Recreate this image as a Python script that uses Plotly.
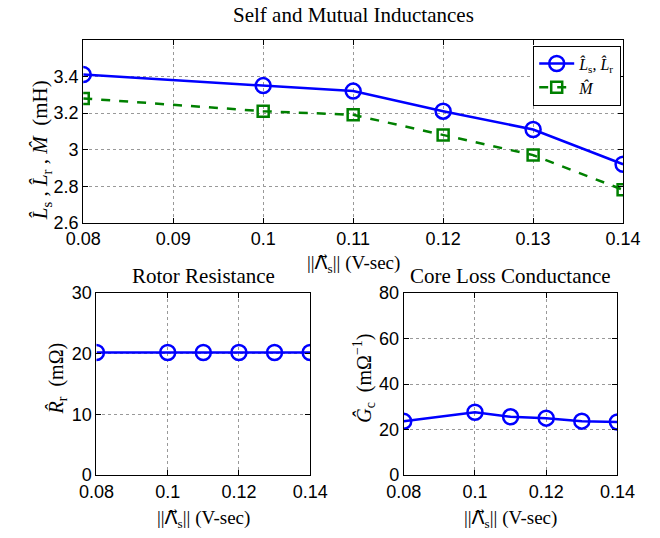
import plotly.graph_objects as go

flux = [0.08, 0.10, 0.11, 0.12, 0.13, 0.14]
L_self = [3.41, 3.35, 3.32, 3.21, 3.11, 2.92]
M_mutual = [3.28, 3.21, 3.19, 3.08, 2.97, 2.78]
R_rotor = [20.2, 20.2, 20.2, 20.2, 20.2, 20.2]
G_core = [23.6, 27.6, 25.6, 25.0, 23.7, 23.3]

top_xticks = [0.08, 0.09, 0.10, 0.11, 0.12, 0.13, 0.14]
top_xlabels = ["0.08", "0.09", "0.1", "0.11", "0.12", "0.13", "0.14"]
top_yticks = [2.6, 2.8, 3.0, 3.2, 3.4]
top_ylabels = ["2.6", "2.8", "3", "3.2", "3.4"]
bot_xticks = [0.08, 0.10, 0.12, 0.14]
bot_xlabels = ["0.08", "0.1", "0.12", "0.14"]
r_yticks = [0, 10, 20, 30]
g_yticks = [0, 20, 40, 60, 80]

BLUE = "#0000ff"
GREEN = "#008000"
SANS = "Liberation Sans, Arial, sans-serif"
SERIF = "Liberation Serif, Times New Roman, serif"

fig = go.Figure()

fig.add_trace(go.Scatter(x=flux, y=L_self, mode="lines+markers",
                         name="<i>L̂</i><sub>s</sub>, <i>L̂</i><sub>r</sub>",
                         line=dict(color=BLUE, width=2.5),
                         marker=dict(symbol="circle-open", size=15, color=BLUE, line=dict(width=2.5)),
                         xaxis="x", yaxis="y"))
fig.add_trace(go.Scatter(x=flux, y=M_mutual, mode="lines+markers", name="<i>M̂</i>",
                         line=dict(color=GREEN, width=2.5, dash="dash"),
                         marker=dict(symbol="square-open", size=11, color=GREEN, line=dict(width=2.5)),
                         xaxis="x", yaxis="y"))
fig.add_trace(go.Scatter(x=flux, y=R_rotor, mode="lines+markers", showlegend=False,
                         line=dict(color=BLUE, width=2.5),
                         marker=dict(symbol="circle-open", size=15, color=BLUE, line=dict(width=2.5)),
                         xaxis="x2", yaxis="y2"))
fig.add_trace(go.Scatter(x=flux, y=G_core, mode="lines+markers", showlegend=False,
                         line=dict(color=BLUE, width=2.5),
                         marker=dict(symbol="circle-open", size=15, color=BLUE, line=dict(width=2.5)),
                         xaxis="x3", yaxis="y3"))

H = 538.0
W = 660.0

def ax(domain, rng, tickvals, ticktext, anchor):
    return dict(domain=domain, range=rng, tickvals=tickvals, ticktext=ticktext,
                anchor=anchor, showline=True, linecolor="black", linewidth=1, mirror="ticks",
                ticks="inside", ticklen=5, tickcolor="black",
                showgrid=True, gridcolor="#999999", griddash="dot", gridwidth=1,
                zeroline=False, tickfont=dict(family=SANS, size=18, color="black"),
                fixedrange=True)

fig.update_layout(
    width=660, height=538,
    margin=dict(l=0, r=0, t=0, b=0),
    paper_bgcolor="white", plot_bgcolor="white",
    xaxis=ax([69 / W, 640 / W], [0.08, 0.14], top_xticks, top_xlabels, "y"),
    yaxis=ax([1 - 221 / H, 1 - 31 / H], [2.6, 3.6], top_yticks, top_ylabels, "x"),
    xaxis2=ax([83 / W, 309 / W], [0.08, 0.14], bot_xticks, bot_xlabels, "y2"),
    yaxis2=ax([1 - 483 / H, 1 - 294 / H], [0, 30], r_yticks, [str(v) for v in r_yticks], "x2"),
    xaxis3=ax([408 / W, 634 / W], [0.08, 0.14], bot_xticks, bot_xlabels, "y3"),
    yaxis3=ax([1 - 483 / H, 1 - 294 / H], [0, 80], g_yticks, [str(v) for v in g_yticks], "x3"),
    legend=dict(x=638 / W, y=1 - 37 / H, xanchor="right", yanchor="top",
                bordercolor="black", borderwidth=1, bgcolor="white",
                font=dict(family=SERIF, size=16, color="black"),
                tracegroupgap=0, itemwidth=35),
    showlegend=True,
)

lam = "||<span style='font-family:DejaVu Sans'>Λ⃗</span><sub>s</sub>|| (V-sec)"
annots = [
    dict(text="Self and Mutual Inductances", x=355 / W, y=1 - 5 / H, size=21),
    dict(text="Rotor Resistance", x=196 / W, y=1 - 276 / H, size=21),
    dict(text="Core Loss Conductance", x=521 / W, y=1 - 276 / H, size=21),
    dict(text=lam, x=355 / W, y=1 - 263 / H, size=19),
    dict(text=lam, x=196 / W, y=1 - 528 / H, size=19),
    dict(text=lam, x=521 / W, y=1 - 528 / H, size=19),
    dict(text="<i>L̂</i><sub>s</sub> , <i>L̂</i><sub>r</sub> , <i>M̂</i>  (mH)",
         x=24 / W, y=1 - 146 / H, size=21, angle=-90),
    dict(text="<i>R̂</i><sub>r</sub>  (mΩ)", x=42 / W, y=1 - 383 / H, size=20, angle=-90),
    dict(text="<i>Ĝ</i><sub>c</sub>  (mΩ<sup>−1</sup>)", x=366 / W, y=1 - 383 / H, size=20, angle=-90),
]
for a in annots:
    fig.add_annotation(text=a["text"], x=a["x"], y=a["y"], xref="paper", yref="paper",
                       xanchor="center", yanchor="middle", showarrow=False,
                       textangle=a.get("angle", 0),
                       font=dict(family=SERIF, size=a["size"], color="black"))

fig.write_html("out.html")
